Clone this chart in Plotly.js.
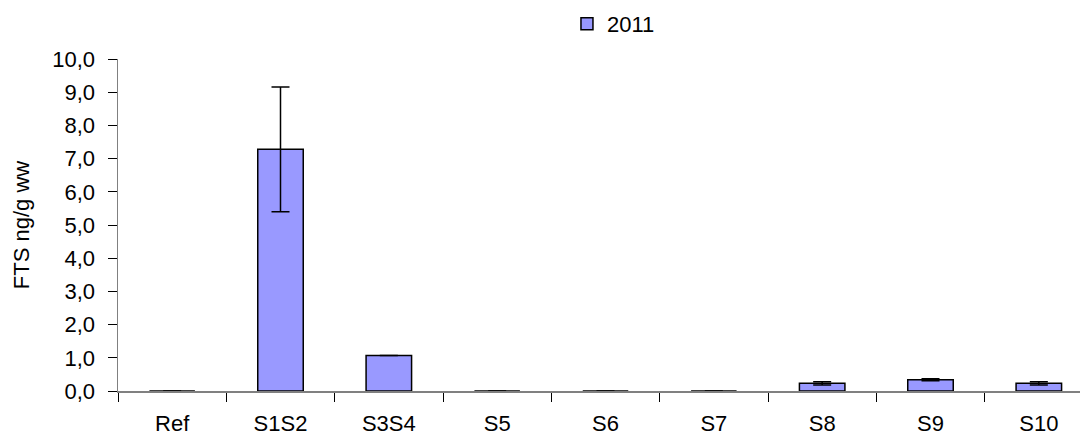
<!DOCTYPE html>
<html><head><meta charset="utf-8">
<script src="https://cdn.plot.ly/plotly-3.0.1.min.js"></script>
<style>body{margin:0;background:#fff}#c{width:1080px;height:436px}</style>
</head><body><div id="c"></div>
<script>
const categories = ["Ref","S1S2","S3S4","S5","S6","S7","S8","S9","S10"];
const values2011 = [0, 7.28, 1.07, 0, 0, 0, 0.23, 0.34, 0.23];
const errors2011 = [0, 1.88, 0, 0, 0, 0, 0.05, 0.03, 0.05];
const yTickVals = [0,1,2,3,4,5,6,7,8,9,10];
const yTickText = ["0,0","1,0","2,0","3,0","4,0","5,0","6,0","7,0","8,0","9,0","10,0"];

const trace = {
  type: "bar", name: "2011", x: categories, y: values2011,
  width: 0.42,
  marker: {color: "#9999ff", line: {color: "#000", width: 1.5}},
  error_y: {type: "data", array: errors2011, visible: true, color: "#000", thickness: 1.5, width: 9}
};
const layout = {
  width: 1080, height: 436,
  margin: {l: 118, r: 0, t: 59, b: 45, autoexpand: false},
  paper_bgcolor: "#fff", plot_bgcolor: "#fff",
  font: {family: "Liberation Sans, Arial, sans-serif", size: 22, color: "#000"},
  showlegend: true,
  legend: {x: 0.4667, xref: "paper", y: 0.945, yref: "container", xanchor: "left", yanchor: "middle",
           orientation: "h", font: {size: 22}, bgcolor: "rgba(0,0,0,0)"},
  xaxis: {range: [-0.5, 8.38], showline: true, linecolor: "#808080", linewidth: 1.5,
          ticks: "outside", tickson: "boundaries", ticklen: 9, tickcolor: "#000",
          showgrid: false, zeroline: false, fixedrange: true, ticklabelstandoff: 12},
  yaxis: {range: [0, 10], tickvals: yTickVals, ticktext: yTickText,
          showline: true, linecolor: "#808080", linewidth: 1.5,
          ticks: "outside", ticklen: 9, tickcolor: "#000", ticklabelstandoff: 8,
          showgrid: false, zeroline: false,
          title: {text: "FTS ng/g ww", font: {size: 22}, standoff: 16}}
};
Plotly.newPlot("c", [trace], layout, {displayModeBar: false, staticPlot: true});
</script></body></html>
